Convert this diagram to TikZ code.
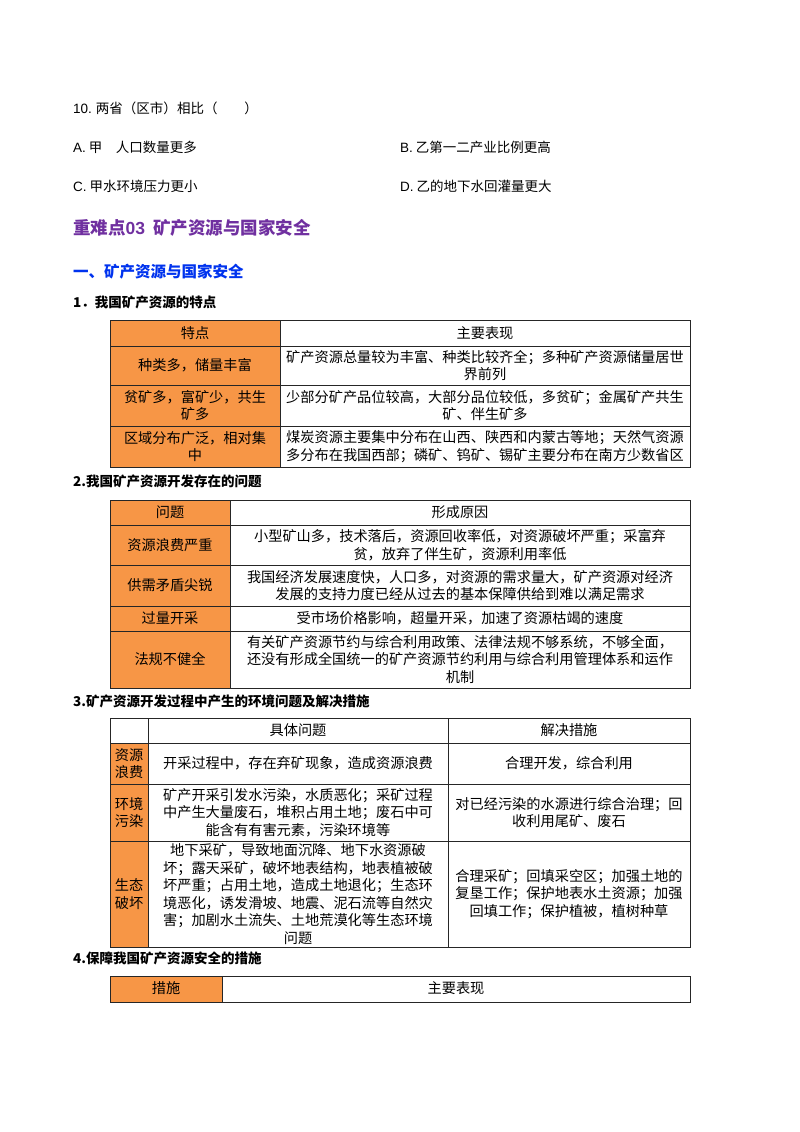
\documentclass[tikz,border=0pt]{standalone}
\usepackage{fontspec}
\setmainfont{Noto Sans CJK SC}
\newfontfamily\lat{Liberation Sans}
\begin{document}
\begin{tikzpicture}[x=1pt,y=-1pt,
  txt/.style={inner sep=0pt,anchor=west,font=\fontsize{13.5}{16}\selectfont},
  cell/.style={inner sep=0pt,align=center,font=\fontsize{14.2}{17.5}\selectfont},
  grid/.style={draw=black!85,line width=0.7pt},
  org/.style={fill=orangec}]
\definecolor{orangec}{HTML}{F79646}
\definecolor{purp}{HTML}{7030A0}
\definecolor{bluec}{HTML}{0033EE}
\useasboundingbox (0,0) rectangle (800,1132);
\node[txt] (q) at (73,108) {{\lat 10.} 两省（区市）相比（\hspace{2em}）};
\node[txt] (a) at (73,147) {{\lat A.}\ 甲\hspace{1em}人口数量更多};
\node[txt] (b) at (400,147) {{\lat B.}\ 乙第一二产业比例更高};
\node[txt] (c) at (73,186) {{\lat C.}\ 甲水环境压力更小};
\node[txt] (d) at (400,186) {{\lat D.}\ 乙的地下水回灌量更大};
\node[txt,font=\fontsize{17.5}{20}\selectfont\bfseries,text=purp] (h1) at (73,228) {重难点{\lat 03}\ \ 矿产资源与国家安全};
\node[txt,font=\fontsize{15.5}{18}\selectfont\bfseries,text=bluec] (h2) at (73,272) {一、矿产资源与国家安全};
% table 1
\node[txt,font=\fontsize{13.5}{16}\selectfont\bfseries] (t1) at (73,302) {1．我国矿产资源的特点};
\fill[orangec] (110,320) rectangle (280,467);
\draw[grid] (110,320) rectangle (690,467);
\draw[grid] (280,320) -- (280,467);
\foreach \y in {346,385,426} \draw[grid] (110,\y) -- (690,\y);
\node[cell] (r1a) at (195,333) {特点};
\node[cell] (r1b) at (485,333) {主要表现};
\node[cell] (r2a) at (195,365.5) {种类多，储量丰富};
\node[cell] (r2b) at (485,365.5) {矿产资源总量较为丰富、种类比较齐全；多种矿产资源储量居世\\界前列};
\node[cell] (r3a) at (195,405.5) {贫矿多，富矿少，共生\\矿多};
\node[cell] (r3b) at (485,405.5) {少部分矿产品位较高，大部分品位较低，多贫矿；金属矿产共生\\矿、伴生矿多};
\node[cell] (r4a) at (195,446.5) {区域分布广泛，相对集\\中};
\node[cell] (r4b) at (485,446.5) {煤炭资源主要集中分布在山西、陕西和内蒙古等地；天然气资源\\多分布在我国西部；磷矿、钨矿、锡矿主要分布在南方少数省区};
% table 2
\node[txt,font=\fontsize{13.5}{16}\selectfont\bfseries] (t2) at (73,481) {2.我国矿产资源开发存在的问题};
\fill[orangec] (110,500) rectangle (230,688);
\draw[grid] (110,500) rectangle (690,688);
\draw[grid] (230,500) -- (230,688);
\foreach \y in {525,565,606,631} \draw[grid] (110,\y) -- (690,\y);
\node[cell] (s1a) at (170,512.5) {问题};
\node[cell] (s1b) at (460,512.5) {形成原因};
\node[cell] (s2a) at (170,545) {资源浪费严重};
\node[cell] (s2b) at (460,545) {小型矿山多，技术落后，资源回收率低，对资源破坏严重；采富弃\\贫，放弃了伴生矿，资源利用率低};
\node[cell] (s3a) at (170,585.5) {供需矛盾尖锐};
\node[cell] (s3b) at (460,585.5) {我国经济发展速度快，人口多，对资源的需求量大，矿产资源对经济\\发展的支持力度已经从过去的基本保障供给到难以满足需求};
\node[cell] (s4a) at (170,618.5) {过量开采};
\node[cell] (s4b) at (460,618.5) {受市场价格影响，超量开采，加速了资源枯竭的速度};
\node[cell] (s5a) at (170,659.5) {法规不健全};
\node[cell] (s5b) at (460,659.5) {有关矿产资源节约与综合利用政策、法律法规不够系统，不够全面，\\还没有形成全国统一的矿产资源节约利用与综合利用管理体系和运作\\机制};
% table 3
\node[txt,font=\fontsize{13.5}{16}\selectfont\bfseries] (t3) at (73,701) {3.矿产资源开发过程中产生的环境问题及解决措施};
\fill[orangec] (110,743) rectangle (148,947);
\draw[grid] (110,718) rectangle (690,947);
\draw[grid] (148,718) -- (148,947);
\draw[grid] (448,718) -- (448,947);
\foreach \y in {743,784,841} \draw[grid] (110,\y) -- (690,\y);
\node[cell] (u1b) at (298,730.5) {具体问题};
\node[cell] (u1c) at (569,730.5) {解决措施};
\node[cell] (u2a) at (129,763.5) {资源\\浪费};
\node[cell] (u2b) at (298,763.5) {开采过程中，存在弃矿现象，造成资源浪费};
\node[cell] (u2c) at (569,763.5) {合理开发，综合利用};
\node[cell] (u3a) at (129,812.5) {环境\\污染};
\node[cell] (u3b) at (298,812.5) {矿产开采引发水污染，水质恶化；采矿过程\\中产生大量废石，堆积占用土地；废石中可\\能含有有害元素，污染环境等};
\node[cell] (u3c) at (569,812.5) {对已经污染的水源进行综合治理；回\\收利用尾矿、废石};
\node[cell] (u4a) at (129,894) {生态\\破坏};
\node[cell] (u4b) at (298,894) {地下采矿，导致地面沉降、地下水资源破\\坏；露天采矿，破坏地表结构，地表植被破\\坏严重；占用土地，造成土地退化；生态环\\境恶化，诱发滑坡、地震、泥石流等自然灾\\害；加剧水土流失、土地荒漠化等生态环境\\问题};
\node[cell] (u4c) at (569,894) {合理采矿；回填采空区；加强土地的\\复垦工作；保护地表水土资源；加强\\回填工作；保护植被，植树种草};
% table 4
\node[txt,font=\fontsize{13.5}{16}\selectfont\bfseries] (t4) at (73,958) {4.保障我国矿产资源安全的措施};
\fill[orangec] (110,976) rectangle (222,1002);
\draw[grid] (110,976) rectangle (690,1002);
\draw[grid] (222,976) -- (222,1002);
\node[cell] (v1a) at (166,988.5) {措施};
\node[cell] (v1b) at (456,988.5) {主要表现};
\end{tikzpicture}
\end{document}
